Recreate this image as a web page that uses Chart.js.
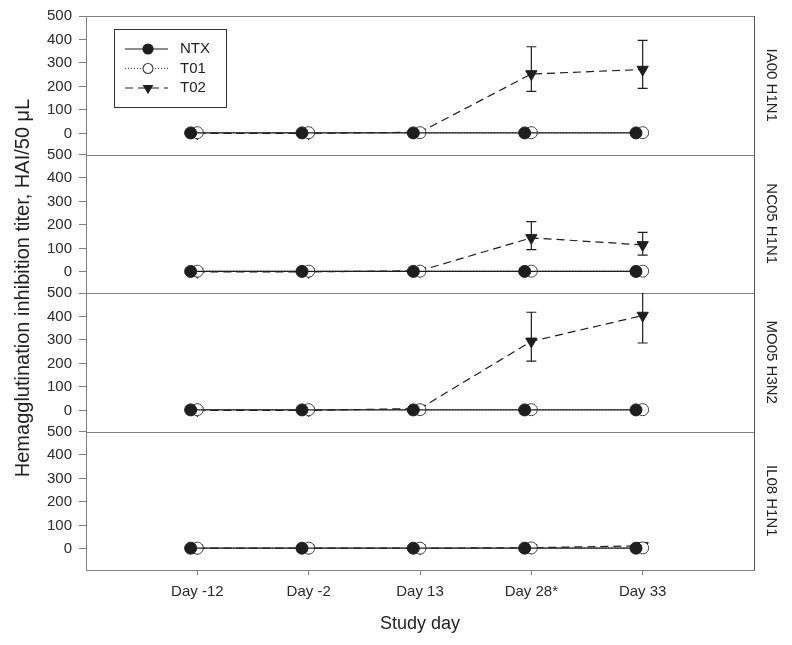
<!DOCTYPE html>
<html>
<head>
<meta charset="utf-8">
<script src="https://cdn.jsdelivr.net/npm/chart.js@4.4.1/dist/chart.umd.min.js"></script>
<style>
  body { margin: 0; background: #fff; }
  #wrap { width: 792px; height: 645px; }
</style>
</head>
<body>
<div id="wrap"><canvas id="hai" width="792" height="645"></canvas></div>
<script>
'use strict';

// categories and panels
const days = ['Day -12', 'Day -2', 'Day 13', 'Day 28*', 'Day 33'];
const panels = ['IA00 H1N1', 'NC05 H1N1', 'MO05 H3N2', 'IL08 H1N1'];
const yTicks = [0, 100, 200, 300, 400, 500];

// one row per panel (top to bottom)
const ntx = [
  [2, 2, 2, 2, 2],
  [2, 2, 2, 2, 2],
  [2, 2, 2, 2, 2],
  [3, 3, 3, 3, 3]
];
const t01 = [
  [3, 3, 3, 3, 3],
  [3, 3, 3, 3, 3],
  [3, 3, 3, 3, 3],
  [3, 3, 3, 4, 4]
];
const t02 = [
  [0, 0, 5, 253, 272],
  [0, 0, 5, 145, 115],
  [0, 0, 8, 294, 404],
  [3, 3, 3, 5, 13]
];
const t02Upper = [
  [null, null, null, 369, 396],
  [null, null, null, 214, 168],
  [null, null, null, 418, 530],
  [null, null, null, null, null]
];
const t02Lower = [
  [null, null, null, 179, 192],
  [null, null, null, 95, 71],
  [null, null, null, 210, 287],
  [null, null, null, null, null]
];

const axisGray = '#808080';
const ink = '#1e1e1e';
const font = 'Arial, "Liberation Sans", sans-serif';

let axisIds = ['yA', 'yB', 'yC', 'yD'];

function pts( values, shift ) {
  return values.map( ( v, i ) => ( { x: i + shift, y: v } ) );
}

let datasets = [];
for ( let p = 0; p < panels.length; p++ ) {
  datasets.push( {
    label: 'NTX', data: pts( ntx[p], -0.06 ), yAxisID: axisIds[p],
    borderColor: ink, backgroundColor: ink, borderWidth: 1.2,
    pointStyle: 'circle', pointRadius: 6, pointBorderWidth: 1
  } );
  datasets.push( {
    label: 'T01', data: pts( t01[p], 0 ), yAxisID: axisIds[p],
    borderColor: '#444', backgroundColor: '#fff', borderWidth: 1.2, borderDash: [1, 2],
    pointStyle: 'circle', pointRadius: 6, pointBorderWidth: 1
  } );
  datasets.push( {
    label: 'T02', data: pts( t02[p], 0 ), yAxisID: axisIds[p],
    borderColor: ink, backgroundColor: ink, borderWidth: 1.2, borderDash: [8, 5],
    pointStyle: 'triangle', pointRotation: 180, pointRadius: 6.5, pointBorderWidth: 1,
    errUpper: t02Upper[p], errLower: t02Lower[p]
  } );
}

function yAxis( id ) {
  return {
    type: 'linear', position: 'left', stack: 'panels', stackWeight: 1,
    min: -90, max: 500,
    afterBuildTicks: ( axis ) => { axis.ticks = yTicks.map( v => ( { value: v } ) ); },
    afterFit: ( axis ) => { axis.width = 86; },
    grid: { drawOnChartArea: false, drawTicks: true, tickLength: 7, color: axisGray, lineWidth: 1 },
    border: { display: true, color: axisGray, width: 1 },
    ticks: { color: '#2a2a2a', padding: 7, autoSkip: false, font: { family: font, size: 15 } }
  };
}

let scales = {
  x: {
    type: 'linear', min: -1, max: 5,
    afterBuildTicks: ( axis ) => { axis.ticks = days.map( ( d, i ) => ( { value: i } ) ); },
    afterFit: ( axis ) => { axis.height = 75; },
    grid: { drawOnChartArea: false, drawTicks: true, tickLength: 5, color: axisGray },
    border: { display: true, color: axisGray },
    ticks: {
      color: '#2a2a2a', padding: 8, maxRotation: 0, autoSkip: false,
      font: { family: font, size: 15 },
      callback: ( v ) => days[v]
    },
    title: { display: true, text: 'Study day', color: '#222', font: { family: font, size: 18 }, padding: { top: 4, bottom: 10 } }
  }
};
// declared bottom first so the first panel ends up at the top
for ( let p = axisIds.length - 1; p >= 0; p-- ) {
  scales[axisIds[p]] = yAxis( axisIds[p] );
}

const errorBars = {
  id: 'errorBars',
  afterDatasetsDraw( chart ) {
    const ctx = chart.ctx;
    ctx.save();
    ctx.strokeStyle = ink;
    ctx.lineWidth = 1.2;
    chart.data.datasets.forEach( ( ds ) => {
      if ( !ds.errUpper ) return;
      const ys = chart.scales[ds.yAxisID];
      const xs = chart.scales.x;
      ds.data.forEach( ( pt, i ) => {
        if ( ds.errUpper[i] == null ) return;
        const x = xs.getPixelForValue( pt.x );
        const top = Math.max( ys.getPixelForValue( ds.errUpper[i] ), ys.top );
        const bot = ys.getPixelForValue( ds.errLower[i] );
        ctx.beginPath();
        ctx.moveTo( x, top ); ctx.lineTo( x, bot );
        if ( ds.errUpper[i] <= ys.max ) { ctx.moveTo( x - 5, top ); ctx.lineTo( x + 5, top ); }
        ctx.moveTo( x - 5, bot ); ctx.lineTo( x + 5, bot );
        ctx.stroke();
      } );
    } );
    ctx.restore();
  }
};

const panelFrame = {
  id: 'panelFrame',
  beforeDatasetsDraw( chart ) {
    const ctx = chart.ctx;
    const area = chart.chartArea;
    ctx.save();
    ctx.strokeStyle = axisGray;
    ctx.lineWidth = 1;
    axisIds.forEach( ( id ) => {
      const s = chart.scales[id];
      ctx.beginPath();
      ctx.moveTo( area.left, Math.round( s.top ) + 0.5 );
      ctx.lineTo( area.right, Math.round( s.top ) + 0.5 );
      ctx.stroke();
    } );
    ctx.strokeStyle = '#555';
    ctx.beginPath();
    ctx.moveTo( area.right + 0.5, area.top );
    ctx.lineTo( area.right + 0.5, area.bottom );
    ctx.stroke();
    ctx.restore();
  },
  afterDraw( chart ) {
    const ctx = chart.ctx;
    const area = chart.chartArea;
    ctx.save();
    ctx.fillStyle = '#222';
    ctx.textAlign = 'center';
    ctx.textBaseline = 'middle';
    // panel labels on the right
    ctx.font = '15px ' + font;
    axisIds.forEach( ( id, p ) => {
      const s = chart.scales[id];
      ctx.save();
      ctx.translate( area.right + 17, ( s.top + s.bottom ) / 2 );
      ctx.rotate( Math.PI / 2 );
      ctx.fillText( panels[p], 0, 0 );
      ctx.restore();
    } );
    // shared y title
    ctx.font = '20px ' + font;
    ctx.save();
    ctx.translate( 23, ( area.top + area.bottom ) / 2 - 5 );
    ctx.rotate( -Math.PI / 2 );
    ctx.fillText( 'Hemagglutination inhibition titer, HAI/50 \u03BCL', 0, 0 );
    ctx.restore();
    ctx.restore();
  }
};

const boxLegend = {
  id: 'boxLegend',
  afterDraw( chart ) {
    const ctx = chart.ctx;
    const area = chart.chartArea;
    const bx = area.left + 28, by = area.top + 13, bw = 112, bh = 78;
    ctx.save();
    ctx.strokeStyle = '#333';
    ctx.lineWidth = 1;
    ctx.strokeRect( bx + 0.5, by + 0.5, bw, bh );
    ctx.font = '15px ' + font;
    ctx.textBaseline = 'middle';
    for ( let k = 0; k < 3; k++ ) {
      const ds = chart.data.datasets[k];
      const y = by + 20 + k * 19.5;
      ctx.strokeStyle = ds.borderColor;
      ctx.lineWidth = 1.2;
      ctx.setLineDash( ds.borderDash || [] );
      ctx.beginPath();
      ctx.moveTo( bx + 11, y ); ctx.lineTo( bx + 54, y );
      ctx.stroke();
      ctx.setLineDash( [] );
      ctx.fillStyle = ds.backgroundColor;
      ctx.strokeStyle = ds.borderColor;
      Chart.helpers.drawPoint( ctx, {
        pointStyle: ds.pointStyle, rotation: ds.pointRotation || 0,
        radius: 5, borderWidth: 1
      }, bx + 34, y );
      ctx.fillStyle = '#222';
      ctx.fillText( ds.label, bx + 66, y );
    }
    ctx.restore();
  }
};

new Chart( document.getElementById( 'hai' ), {
  type: 'line',
  data: { datasets: datasets },
  options: {
    responsive: false,
    animation: false,
    layout: { padding: { top: 12, right: 38, left: 0, bottom: 0 } },
    scales: scales,
    plugins: { legend: { display: false }, tooltip: { enabled: false } }
  },
  plugins: [panelFrame, errorBars, boxLegend]
} );
</script>
</body>
</html>
